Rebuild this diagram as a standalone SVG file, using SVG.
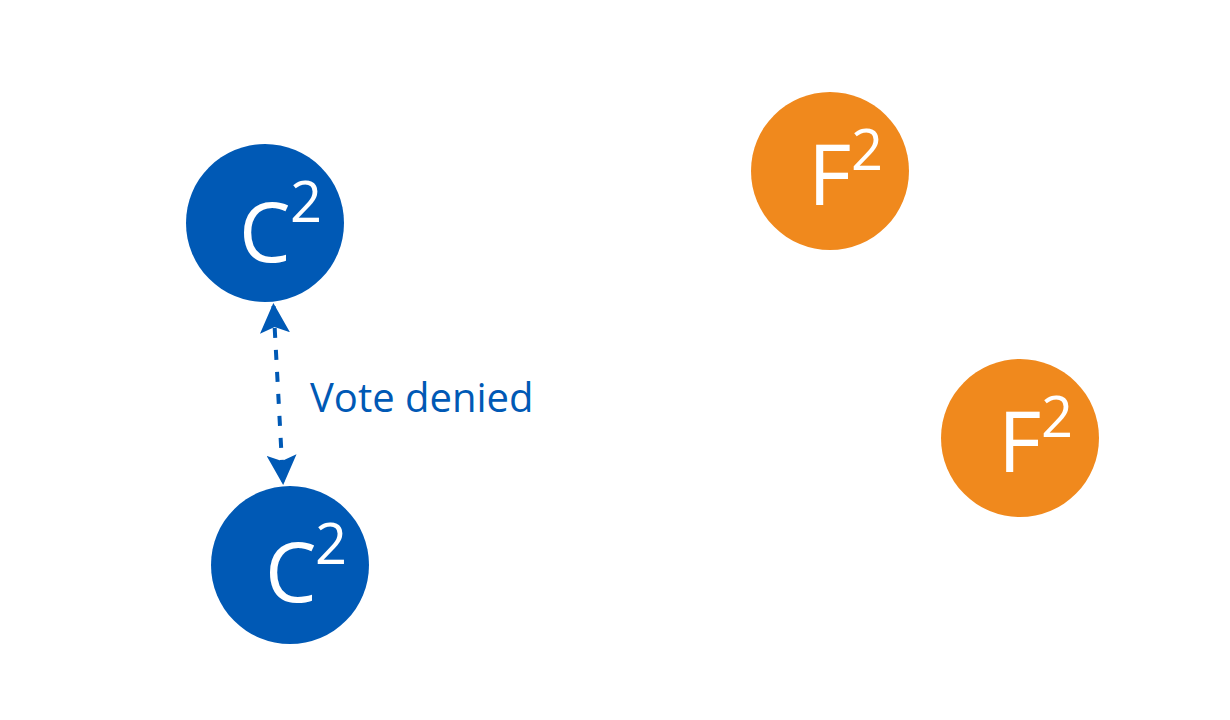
<svg xmlns="http://www.w3.org/2000/svg" width="1230" height="720" viewBox="0 0 1230 720">
<style>
.c{fill:#0059b5}
.f{fill:#f0891d}
.t{font-family:"Open Sans","Noto Sans",sans-serif;fill:#ffffff;font-size:84px}
.tc{font-family:"Open Sans","Noto Sans",sans-serif;fill:#ffffff;font-size:82px}
.s{font-family:"Open Sans","Noto Sans",sans-serif;fill:#ffffff;font-size:56px}
.lbl{font-family:"Open Sans","Noto Sans",sans-serif;fill:#0059b5;font-size:40px}
.con{stroke:#0059b5;stroke-width:4;stroke-dasharray:10 12;fill:none}
</style>
<defs>
<marker id="ah" viewBox="0 0 10 10" refX="9" refY="5" markerWidth="7.5" markerHeight="7.5" markerUnits="strokeWidth" orient="auto-start-reverse">
<path d="M0,0 L10,5 L0,10 L2,5 Z" fill="#0059b5"/>
</marker>
</defs>
<rect width="1230" height="720" fill="#ffffff"/>
<g id="c1">
<circle class="c" cx="265" cy="223" r="79"/>
<text class="tc" x="239" y="262">C</text>
<text class="s" x="290" y="222">2</text>
</g>
<g id="c2">
<circle class="c" cx="290" cy="565" r="79"/>
<text class="tc" x="265" y="602">C</text>
<text class="s" x="315" y="564">2</text>
</g>
<g id="f1">
<circle class="f" cx="830" cy="171" r="79"/>
<text class="t" x="808" y="205">F</text>
<text class="s" x="851" y="170">2</text>
</g>
<g id="f2">
<circle class="f" cx="1020" cy="438" r="79"/>
<text class="t" x="998" y="472">F</text>
<text class="s" x="1041" y="437">2</text>
</g>
<g id="connectors">
<line class="con" x1="273.5" y1="306" x2="283" y2="482" marker-start="url(#ah)" marker-end="url(#ah)"/>
<text class="lbl" x="310" y="412">Vote denied</text>
</g>
</svg>
